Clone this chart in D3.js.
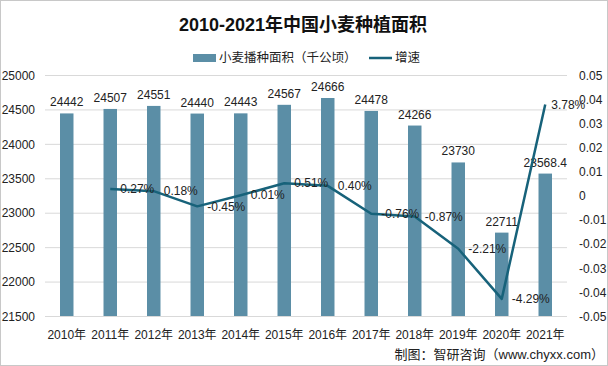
<!DOCTYPE html>
<html><head><meta charset="utf-8">
<script src="https://cdn.jsdelivr.net/npm/d3@7"></script>
<style>
html,body{margin:0;padding:0;background:#fff;}
svg text{font-family:"Liberation Sans","Noto Sans CJK SC",sans-serif;}
</style></head>
<body>
<svg id="c" width="608" height="366"></svg>
<script>
const categories = ["2010年","2011年","2012年","2013年","2014年","2015年","2016年","2017年","2018年","2019年","2020年","2021年"];
const areaValues = [24442,24507,24551,24440,24443,24567,24666,24478,24266,23730,22711,23568.4];
const areaLabels = ["24442","24507","24551","24440","24443","24567","24666","24478","24266","23730","22711","23568.4"];
const growthYears = ["2011年","2012年","2013年","2014年","2015年","2016年","2017年","2018年","2019年","2020年","2021年"];
const growthValues = [0.0027,0.0018,-0.0045,0.0001,0.0051,0.0040,-0.0076,-0.0087,-0.0221,-0.0429,0.0378];
const growthLabels = ["0.27%","0.18%","-0.45%","0.01%","0.51%","0.40%","-0.76%","-0.87%","-2.21%","-4.29%","3.78%"];
const leftTicks = [21500,22000,22500,23000,23500,24000,24500,25000];
const rightTicks = [-0.05,-0.04,-0.03,-0.02,-0.01,0,0.01,0.02,0.03,0.04,0.05];
const rightTickLabels = ["-0.05","-0.04","-0.03","-0.02","-0.01","0","0.01","0.02","0.03","0.04","0.05"];

const svg = d3.select("#c");
const W=608,H=366;
const barColor="#5b8ea6", lineColor="#17627a", textColor="#222";
svg.append("rect").attr("x",0.5).attr("y",0.5).attr("width",W-1).attr("height",H-1).attr("fill","#fff").attr("stroke","#c8c8c8");

const x0=45,x1=567,yTop=75,yBot=316;
const x = d3.scaleBand().domain(categories).range([x0,x1]).paddingInner(0.69).paddingOuter(0.345);
const y = d3.scaleLinear().domain([21500,25000]).range([yBot,yTop]);
const y2 = d3.scaleLinear().domain([-0.05,0.05]).range([yBot,yTop]);

// grid
svg.append("g").selectAll("line").data(leftTicks).join("line")
  .attr("x1",x0).attr("x2",x1).attr("y1",d=>y(d)+0.5).attr("y2",d=>y(d)+0.5)
  .attr("stroke","#d9d9d9").attr("stroke-width",1);

// left axis
const la = svg.append("g").attr("transform",`translate(${x0-10},0)`)
  .call(d3.axisLeft(y).tickValues(leftTicks).tickSize(0).tickFormat(d3.format("d")));
la.select(".domain").remove();
la.selectAll("text").attr("font-size",12).attr("fill",textColor).attr("x",0).attr("dy","0.35em");

// right axis
const ra = svg.append("g").attr("transform",`translate(${x1+12},0)`)
  .call(d3.axisRight(y2).tickValues(rightTicks).tickSize(0).tickFormat((d,i)=>rightTickLabels[i]));
ra.select(".domain").remove();
ra.selectAll("text").attr("font-size",12).attr("fill",textColor).attr("x",0).attr("dy","0.35em");

// bottom axis
const ba = svg.append("g").attr("transform",`translate(0,${yBot})`)
  .call(d3.axisBottom(x).tickSize(0));
ba.select(".domain").remove();
ba.selectAll("text").attr("font-size",12).attr("fill",textColor).attr("y",14);

// bars
svg.append("g").selectAll("rect").data(areaValues).join("rect")
  .attr("x",(d,i)=>x(categories[i])).attr("width",x.bandwidth())
  .attr("y",d=>y(d)).attr("height",d=>yBot-y(d)).attr("fill",barColor);
svg.append("g").selectAll("text").data(areaValues).join("text")
  .attr("x",(d,i)=>x(categories[i])+x.bandwidth()/2).attr("y",d=>y(d)-7)
  .attr("text-anchor","middle").attr("font-size",12).attr("fill",textColor)
  .text((d,i)=>areaLabels[i]);

// line
const cx = c=>x(c)+x.bandwidth()/2;
const line = d3.line().x((d,i)=>cx(growthYears[i])).y(d=>y2(d));
svg.append("path").datum(growthValues).attr("d",line).attr("fill","none")
  .attr("stroke",lineColor).attr("stroke-width",2.5).attr("stroke-linejoin","round");
svg.append("g").selectAll("text").data(growthValues).join("text")
  .attr("x",(d,i)=>cx(growthYears[i])+(i===growthValues.length-1?6:10)).attr("y",d=>y2(d)).attr("dy","0.35em")
  .attr("font-size",12).attr("fill",textColor).text((d,i)=>growthLabels[i]);

// title
svg.append("text").attr("x",303).attr("y",31).attr("text-anchor","middle")
  .attr("font-size",18).attr("font-weight","bold").attr("fill","#111")
  .text("2010-2021年中国小麦种植面积");

// legend
const lg = svg.append("g");
lg.append("rect").attr("x",193).attr("y",54).attr("width",23).attr("height",8).attr("fill",barColor);
lg.append("text").attr("x",219).attr("y",58).attr("dy","0.35em").attr("font-size",12.5).attr("fill",textColor)
  .text("小麦播种面积（千公顷）");
lg.append("line").attr("x1",369).attr("x2",392).attr("y1",58).attr("y2",58).attr("stroke",lineColor).attr("stroke-width",2.5);
lg.append("text").attr("x",395).attr("y",58).attr("dy","0.35em").attr("font-size",12.5).attr("fill",textColor)
  .text("增速");

// source
svg.append("text").attr("x",604).attr("y",354).attr("dy","0.35em").attr("text-anchor","end")
  .attr("font-size",13).attr("fill",textColor)
  .text("制图：智研咨询（www.chyxx.com）");
</script>
</body></html>
